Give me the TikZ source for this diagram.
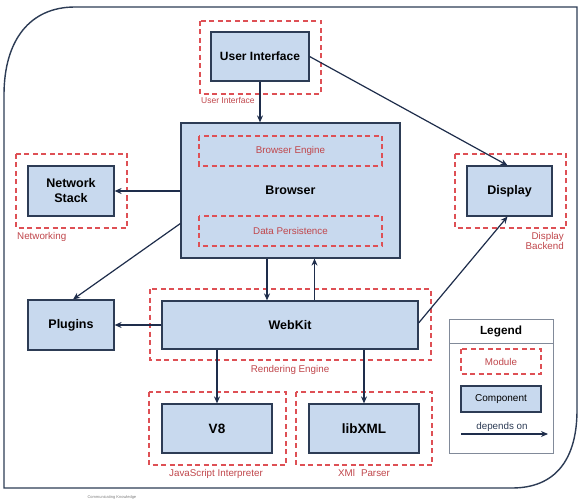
\documentclass[tikz,border=0pt]{standalone}
\usepackage{fontspec}
\setmainfont{Liberation Sans}
\usetikzlibrary{arrows.meta}
\definecolor{compfill}{RGB}{200,217,238}
\definecolor{compdraw}{RGB}{45,60,85}
\definecolor{modred}{RGB}{222,80,85}
\definecolor{labred}{RGB}{192,70,75}
\definecolor{arrcol}{RGB}{30,45,75}
\tikzset{
  comp/.style={draw=compdraw, fill=compfill, line width=1.2pt, font=\bfseries\fontsize{12.5}{14}\selectfont, align=center, inner sep=0pt},
  module/.style={draw=modred, line width=1.3pt, dash pattern=on 5pt off 3.5pt},
  modlabel/.style={text=labred, font=\fontsize{9.8}{10.5}\selectfont, inner sep=0pt},
  dep/.style={draw=arrcol, line width=1.2pt, -{Stealth[length=7pt,width=6pt]}},
  frame/.style={draw=compdraw, line width=1.4pt}
}
\begin{document}
\begin{tikzpicture}[x=1pt,y=-1pt]
\useasboundingbox (0,0) rectangle (584,500);
\fill[white] (0,0) rectangle (584,500);
% outer frame
\draw[frame] (4,488) -- (4,95) .. controls (4,40) and (30,7) .. (75,7) -- (577,7) -- (577,410) .. controls (577,460) and (555,488) .. (512,488) -- cycle;

% modules
\draw[module] (200,21) rectangle (321,94);
\node[modlabel, anchor=north west, font=\fontsize{8.5}{9.5}\selectfont] (uilab) at (201,97) {User Interface};
\draw[module] (16,154) rectangle (127,228);
\node[modlabel, anchor=north west] (netlab) at (17,232) {Networking};
\draw[module] (455,154) rectangle (566,228);
\node[modlabel, anchor=north east, align=right] (displab) at (564,232) {Display\\Backend};
\draw[module] (150,289) rectangle (431,360);
\node[modlabel, anchor=north] (renlab) at (290,365) {Rendering Engine};
\draw[module] (149,392) rectangle (286,465);
\node[modlabel, anchor=north] (jslab) at (216,469) {JavaScript Interpreter};
\draw[module] (296,392) rectangle (432,465);
\node[modlabel, anchor=north] (xmllab) at (364,469) {XMl\,\, Parser};

% components
\node[comp, minimum width=98pt, minimum height=49pt, font=\bfseries\fontsize{12}{14}\selectfont] (ui) at (260,56.5) {User Interface};
\node[comp, minimum width=219pt, minimum height=135pt] (browser) at (290.5,190.5) {};
\node[font=\bfseries\fontsize{12.5}{14}\selectfont] (browsertxt) at (290.5,190) {Browser};
\draw[module] (199,136) rectangle (382,166);
\node[modlabel] (be) at (290.5,151) {Browser Engine};
\draw[module] (199,216) rectangle (382,246);
\node[modlabel] (dp) at (290.5,231) {Data Persistence};

\node[comp, minimum width=86pt, minimum height=50pt] (net) at (71,191) {Network\\[1pt]Stack};
\node[comp, minimum width=85pt, minimum height=50pt] (disp) at (509.5,191) {Display};
\node[comp, minimum width=86pt, minimum height=50pt] (plug) at (71,325) {Plugins};
\node[comp, minimum width=256pt, minimum height=48pt] (webkit) at (290,325) {WebKit};
\node[comp, minimum width=110pt, minimum height=49pt, font=\bfseries\fontsize{13.5}{15}\selectfont] (v8) at (217,428.5) {V8};
\node[comp, minimum width=110pt, minimum height=49pt, font=\bfseries\fontsize{13.5}{15}\selectfont] (xml) at (364,428.5) {libXML};

% connectors
\draw[dep] (ui.south) -- (browser.north -| ui.south);
\draw[dep] (ui.east) -- ([xshift=-2pt]disp.north);
\draw[dep] (browser.west |- net.east) -- (net.east);
\draw[dep] ([yshift=-33pt]browser.west) -- ([xshift=2pt]plug.north);
\draw[dep] ([xshift=-23.5pt]browser.south) -- ([xshift=-23.5pt]browser.south |- webkit.north);
\draw[dep] ([xshift=24.5pt]webkit.north) -- ([xshift=24.5pt]webkit.north |- browser.south);
\draw[dep] (webkit.west) -- (plug.east);
\draw[dep] ([yshift=2pt]webkit.east) -- ([xshift=-2pt]disp.south);
\draw[dep] (webkit.south -| v8.north) -- (v8.north);
\draw[dep] (webkit.south -| xml.north) -- (xml.north);

% legend
\node[draw=compdraw!60, line width=0.8pt, minimum width=104pt, minimum height=134pt, inner sep=0pt] (legend) at (501,386) {};
\draw[draw=compdraw!60, line width=0.8pt] (449,343) -- (553,343);
\node[font=\bfseries\fontsize{11.8}{13}\selectfont] (legtitle) at (501,331) {Legend};
\draw[module] (461,349) rectangle (541,374);
\node[modlabel] (legmod) at (501,361.5) {Module};
\node[comp, minimum width=80pt, minimum height=26pt, font=\fontsize{10}{11}\selectfont] (legcomp) at (501,399) {Component};
\coordinate (la) at (461,434);
\coordinate (lb) at (548,434);
\draw[dep] (la) -- (lb);
\node[font=\fontsize{9.8}{11}\selectfont, text=compdraw] (legdep) at (502,427) {depends on};

% footer text
\node[font=\fontsize{4}{5}\selectfont, text=gray, anchor=west] (foot) at (84,497) {Communicating Knowledge};
\end{tikzpicture}
\end{document}
